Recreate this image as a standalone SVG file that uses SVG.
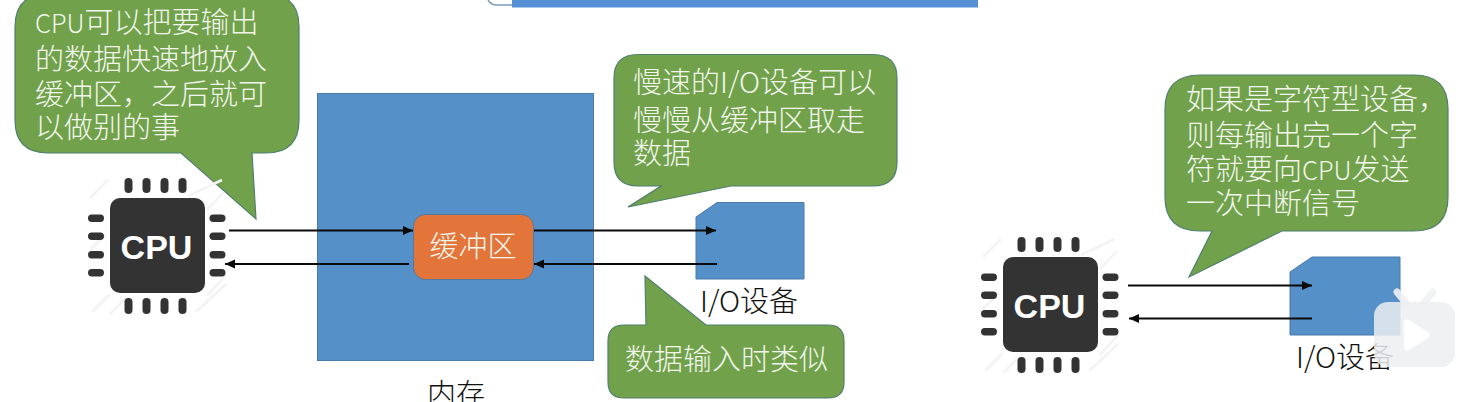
<svg xmlns="http://www.w3.org/2000/svg" width="1461" height="402" viewBox="0 0 1461 402">
<style>
text{font-family:"Noto Sans CJK SC","Noto Sans",sans-serif;font-size:29px;font-weight:300}
.lat{font-size:25.500px}
.say{fill:#71a14b;stroke:#4f7f6f;stroke-width:1.2}
.say-t{fill:#f1f6ec}
.blue{fill:#5590c9;stroke:#4b7ba8;stroke-width:1}
.buf{fill:#e4753a;stroke:#56799b;stroke-width:1}
.lab{fill:#111}
.conn{stroke:#0a0a0a;stroke-width:2;fill:none;marker-end:url(#arrow)}
.pin{fill:#333}
.hatch{stroke:#f3f3f3;stroke-width:2.500}
.chip{fill:#333}
.chip-t{font-family:"Liberation Sans",Arial,sans-serif;font-size:34px;font-weight:700;fill:#fff}
</style>
<defs>
<marker id="arrow" markerUnits="userSpaceOnUse" markerWidth="12" markerHeight="12" refX="10" refY="6" orient="auto"><path d="M0 1.500 L10 6 L0 10.500 Z" fill="#0a0a0a"/></marker>
<g id="pins">
<rect class="pin" x="124.500" y="178" width="8" height="15" rx="4"/><rect class="pin" x="142.500" y="178" width="8" height="15" rx="4"/><rect class="pin" x="160.500" y="178" width="8" height="15" rx="4"/><rect class="pin" x="178.500" y="178" width="8" height="15" rx="4"/>
<rect class="pin" x="124.500" y="298" width="8" height="16" rx="4"/><rect class="pin" x="142.500" y="298" width="8" height="16" rx="4"/><rect class="pin" x="160.500" y="298" width="8" height="16" rx="4"/><rect class="pin" x="178.500" y="298" width="8" height="16" rx="4"/>
<rect class="pin" x="88" y="214.500" width="16" height="7.500" rx="3.700"/><rect class="pin" x="88" y="232.500" width="16" height="7.500" rx="3.700"/><rect class="pin" x="88" y="251" width="16" height="7.500" rx="3.700"/><rect class="pin" x="88" y="269" width="16" height="7.500" rx="3.700"/>
<rect class="pin" x="209.500" y="214.500" width="16" height="7.500" rx="3.700"/><rect class="pin" x="209.500" y="232.500" width="16" height="7.500" rx="3.700"/><rect class="pin" x="209.500" y="251" width="16" height="7.500" rx="3.700"/><rect class="pin" x="209.500" y="269" width="16" height="7.500" rx="3.700"/>
</g>
<g id="hatches">
<path class="hatch" d="M90 198 L108 180 M90 250 L106 234 M92 312 L110 294 M110 314 L124 300 M188 196 L222 180 M207 210 L224 192 M207 296 L226 275 M196 312 L226 284"/>
</g>
</defs>
<rect width="1461" height="402" fill="#fff"/>

<g id="top-strip">
<path d="M488 0 Q491 5 497 5 L512 5" fill="none" stroke="#7f9bbd" stroke-width="1.500"/>
<rect x="512" y="0" width="466" height="7.500" fill="#5590d6"/>
</g>

<g id="memory"><rect class="blue" x="317.500" y="93.500" width="276" height="267"/>
<text class="lab" x="427" y="405">内存</text></g>

<g id="callout-cpu"><path class="say" d="M48 -6 H266 Q299 -6 299 27 V120 Q299 153 266 153 H252 L256 219 L181 153 H48 Q15 153 15 120 V27 Q15 -6 48 -6 Z"/>
<text class="say-t" x="35" y="33"><tspan class="lat">CPU</tspan>可以把要输出</text>
<text class="say-t" x="35" y="70">的数据快速地放入</text>
<text class="say-t" x="35" y="105">缓冲区，之后就可</text>
<text class="say-t" x="35" y="138">以做别的事</text></g>

<g id="cpu-left"><use href="#hatches"/><use href="#pins"/>
<rect class="chip" x="110" y="198" width="95" height="95" rx="10"/>
<text class="chip-t" x="156.500" y="259" text-anchor="middle">CPU</text></g>

<g id="buffer"><rect class="buf" x="413.500" y="214.500" width="120" height="65" rx="12"/>
<text class="say-t" x="473" y="257" text-anchor="middle">缓冲区</text></g>

<g id="io-left"><path class="blue" d="M696 217 L717 202.500 H804 V279 H696 Z"/>
<text class="lab" x="700" y="312">I/O设备</text></g>

<g id="callout-io"><path class="say" d="M638 54.500 H873 Q897 54.500 897 78 V162 Q897 186 873 186 H731 L628 207 L661 186 H638 Q614 186 614 162 V78 Q614 54.500 638 54.500 Z"/>
<text class="say-t" x="633" y="93">慢速的I/O设备可以</text>
<text class="say-t" x="633" y="131">慢慢从缓冲区取走</text>
<text class="say-t" x="633" y="164">数据</text></g>

<g id="callout-input"><path class="say" d="M624 325 H646 L645 276 L706 325 H828 Q844 325 844 341 V382 Q844 398 828 398 H624 Q608 398 608 382 V341 Q608 325 624 325 Z"/>
<text class="say-t" x="625" y="370">数据输入时类似</text></g>

<g id="callout-char"><path class="say" d="M1200 75 H1414 Q1448 75 1448 109 V197 Q1448 231 1414 231 H1282 L1189 277 L1212 231 H1200 Q1165 231 1165 197 V109 Q1165 75 1200 75 Z"/>
<text class="say-t" x="1186" y="110">如果是字符型设备，</text>
<text class="say-t" x="1186" y="146">则每输出完一个字</text>
<text class="say-t" x="1186" y="180">符就要向<tspan class="lat">CPU</tspan>发送</text>
<text class="say-t" x="1186" y="214">一次中断信号</text></g>

<g id="cpu-right" transform="translate(893 59)"><use href="#hatches"/><use href="#pins"/>
<rect class="chip" x="110" y="198" width="95" height="95" rx="10"/>
<text class="chip-t" x="156.500" y="259" text-anchor="middle">CPU</text></g>

<g id="io-right"><path class="blue" d="M1290 272 L1312 257 H1400 V335 H1290 Z"/>
<text class="lab" x="1296" y="368">I/O设备</text></g>

<g id="connectors">
<line class="conn" x1="229" y1="230.500" x2="413" y2="230.500"/>
<line class="conn" x1="409" y1="264" x2="225" y2="264"/>
<line class="conn" x1="534" y1="230.500" x2="716" y2="230.500"/>
<line class="conn" x1="717" y1="264" x2="534" y2="264"/>
<line class="conn" x1="1128" y1="285.500" x2="1312" y2="285.500"/>
<line class="conn" x1="1312" y1="318.500" x2="1129" y2="318.500"/>
</g>

<g id="watermark">
<path d="M1397 292 L1406 303 M1433 292 L1424 303" stroke="#eef1f5" stroke-width="7" stroke-linecap="round" fill="none" opacity=".9"/>
<rect x="1374" y="302" width="81" height="65" rx="14" fill="#eceef1" opacity=".85"/>
<path d="M1404 323 Q1404 318 1409 320 L1428 332 Q1432 335 1428 338 L1409 350 Q1404 352 1404 347 Z" fill="#fff"/>
</g>
</svg>
